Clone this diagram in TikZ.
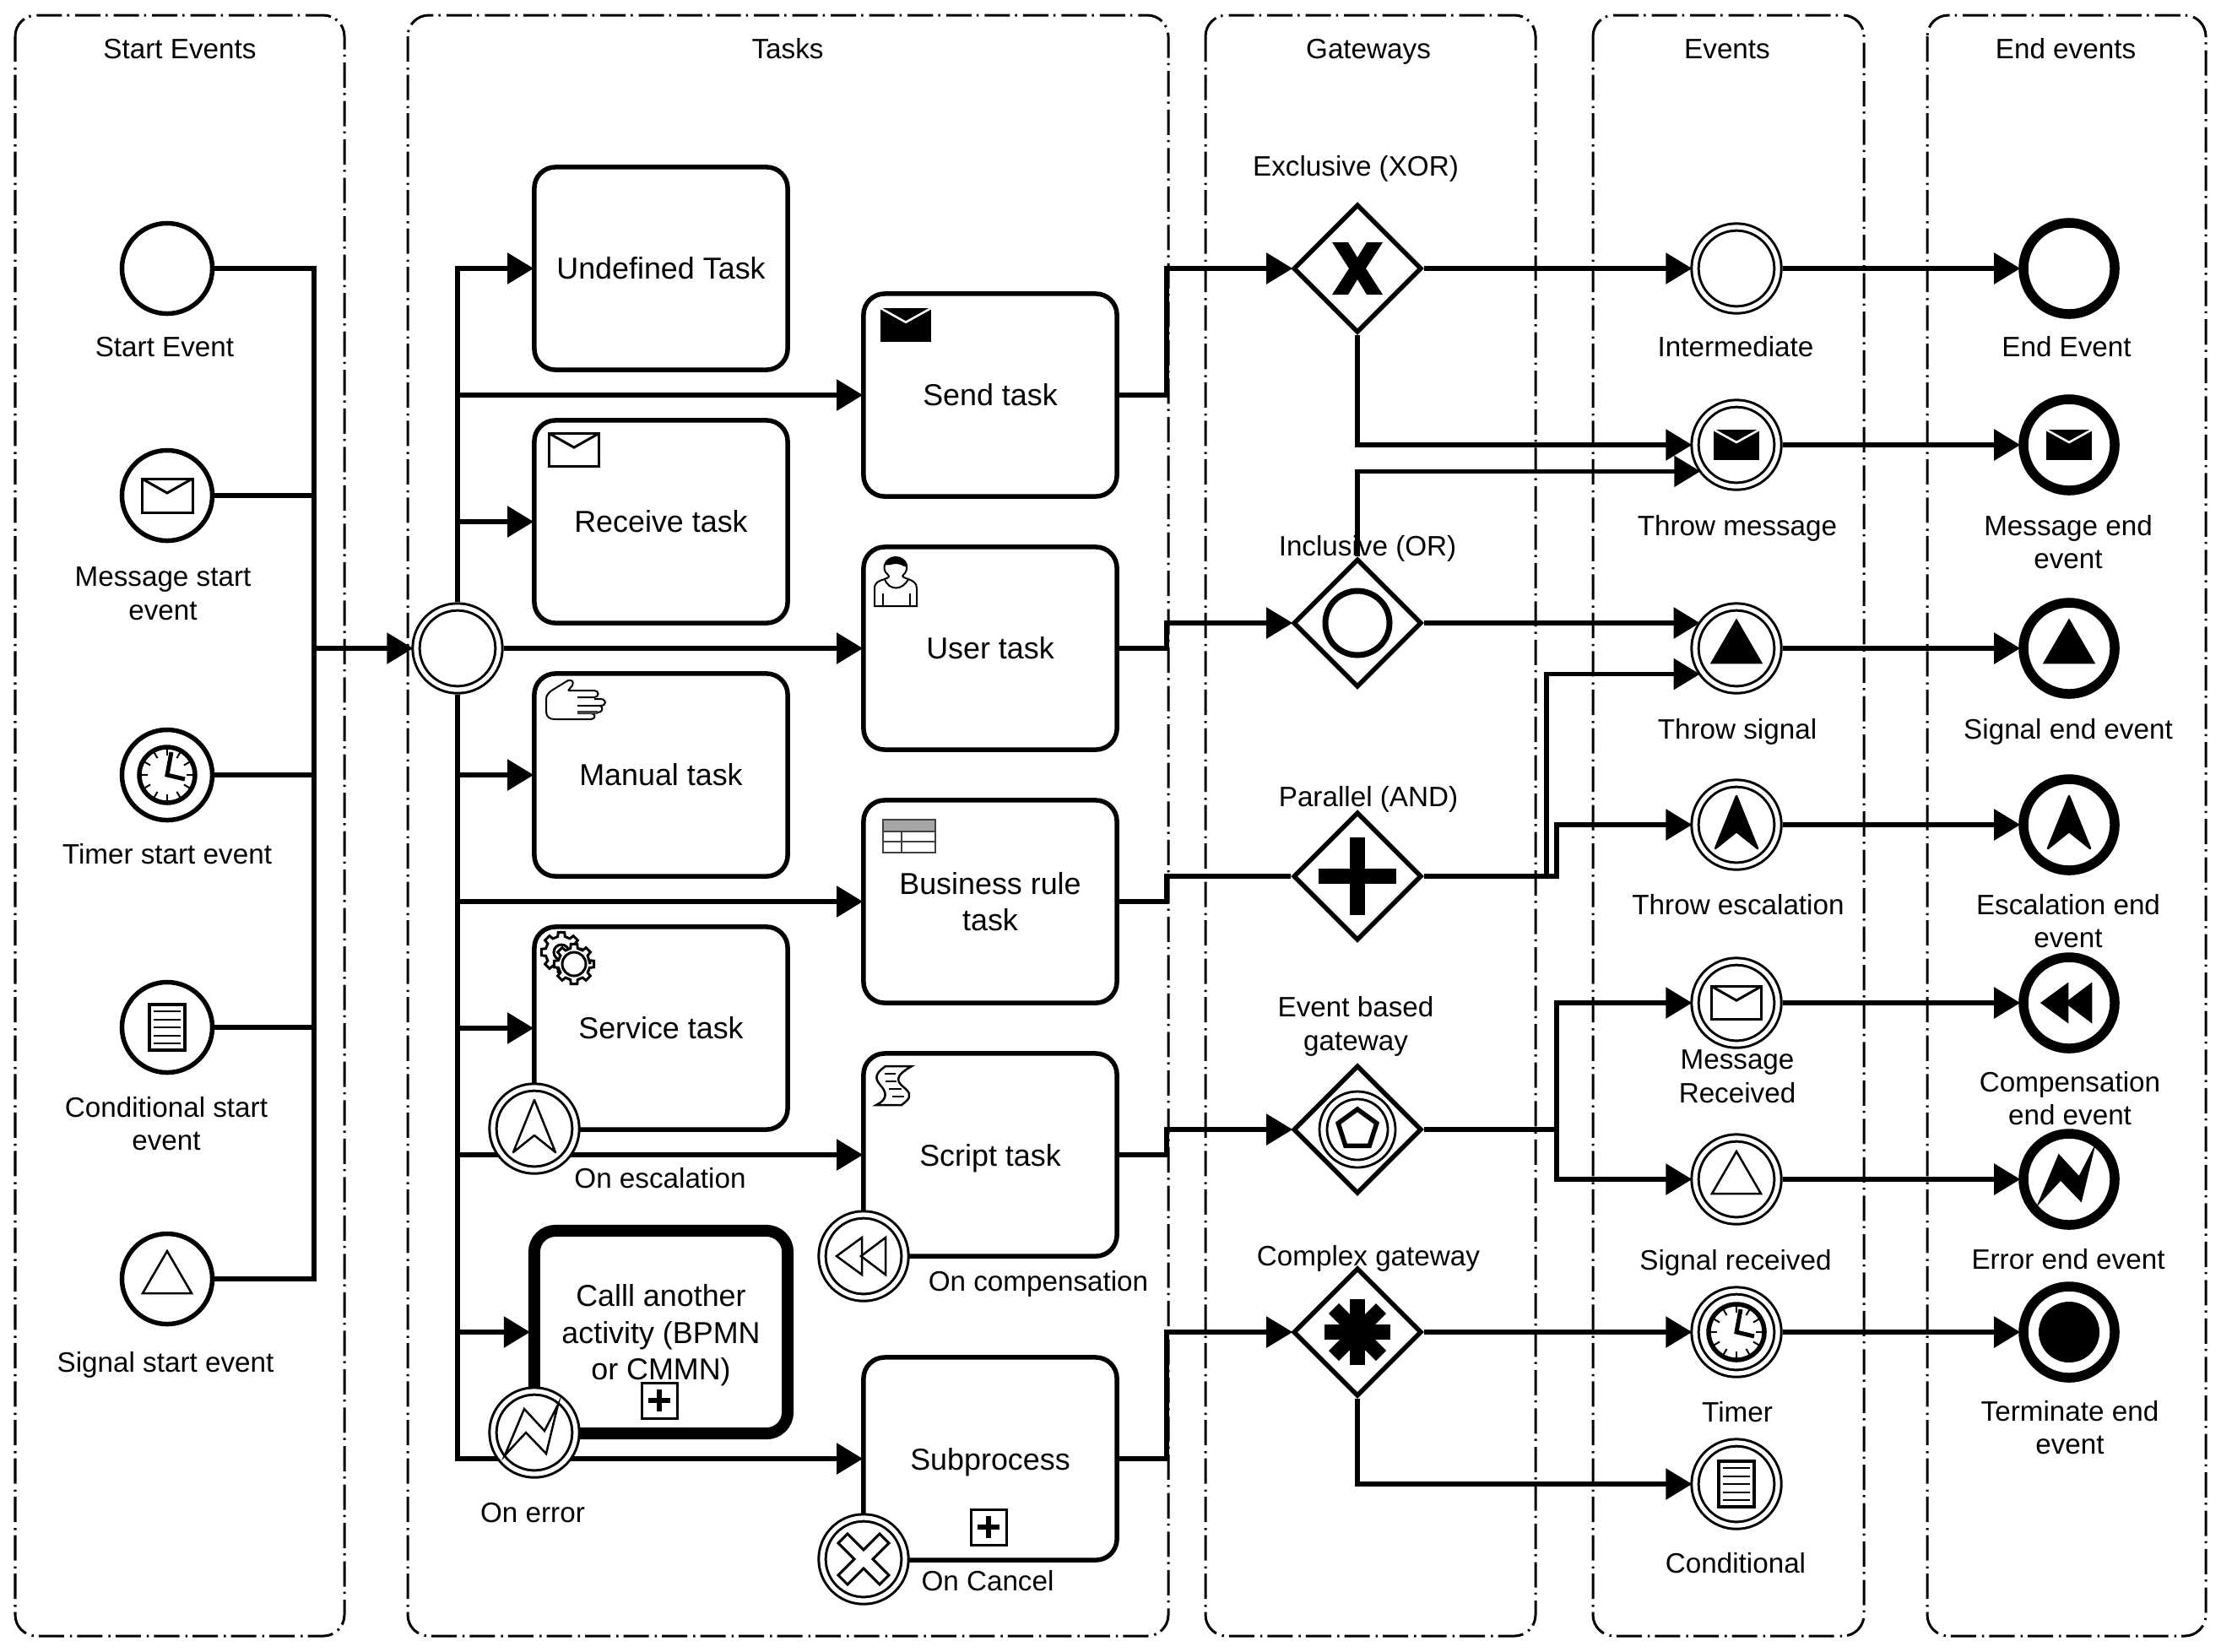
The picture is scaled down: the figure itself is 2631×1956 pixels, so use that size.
\documentclass[tikz,border=0pt]{standalone}
\usepackage{fontspec}
\setmainfont{Liberation Sans}
\usetikzlibrary{positioning,calc,arrows.meta,shapes.geometric}
\definecolor{tablegray}{HTML}{A6A6A6}
\definecolor{tabledark}{HTML}{404040}
\newcommand{\nodepth}[1]{\raisebox{0pt}[\height][0pt]{#1}}
\tikzset{
  lane/.style={draw,line width=.03cm,rounded corners=.25cm,dash pattern=on .30cm off .07cm on .025cm off .06cm},
  title/.style={font=\fontsize{9.45}{11.3}\selectfont,align=center,inner sep=0pt},
  tasklabel/.style={font=\fontsize{10.2}{12.4}\selectfont,align=center},
  taskbox/.style={tasklabel,draw,fill=white,line width=.055cm,rounded corners=.25cm,minimum width=3cm,minimum height=2.4cm,inner sep=0pt},
  startev/.style={circle,draw,fill=white,line width=.055cm,minimum size=1.07cm,inner sep=0pt},
  midev/.style={circle,draw,fill=white,line width=.03cm,double,double distance=.053cm,minimum size=.98cm,inner sep=0pt,outer sep=.056cm},
  endev/.style={circle,draw,fill=white,line width=.115cm,minimum size=1.08cm,inner sep=0pt},
  gate/.style={diamond,aspect=1,draw,fill=white,line width=.055cm,minimum width=1.52cm,minimum height=1.52cm,inner sep=0pt},
  link/.style={draw,line width=.055cm},
  flow/.style={link,shorten >=-.02cm,-{Triangle[length=.31cm,width=.36cm]}},
  pics/envelope/.style={code={
    \draw[line width=.03cm] (-30,-20) rectangle (30,20);
    \draw[line width=.03cm] (-30,-20) -- (0,-3) -- (30,-20);}},
  pics/envelopefull/.style={code={
    \fill (-27,-18) rectangle (27,18);
    \draw[white,line width=.025cm] (-27,-18) -- (0,-3) -- (27,-18);}},
  pics/trianglemark/.style={code={
    \draw[line width=.025cm,pic actions] (0,-33) -- (29,17) -- (-29,17) -- cycle;}},
  pics/escalationmark/.style={code={
    \draw[line width=.025cm,line join=round,pic actions] (0,-34) -- (25,28) -- (0,8) -- (-25,28) -- cycle;}},
  pics/boltmark/.style={code={
    \draw[line width=.025cm,pic actions] (-35,27) -- (-12,-28) -- (12,-2) -- (28,-33) -- (14,25) -- (-10,0) -- cycle;}},
  pics/rewindmark/.style={code={
    \draw[line width=.025cm,pic actions] (-32,0) -- (-2,-22) -- (-2,22) -- cycle;
    \draw[line width=.025cm,pic actions] (-3,0) -- (26,-22) -- (26,22) -- cycle;}},
  pics/cancelmark/.style={code={
    \draw[line width=.03cm] (-30,-19) -- (-19,-30) -- (0,-11) -- (19,-30) -- (30,-19) -- (11,0) -- (30,19) -- (19,30) -- (0,11) -- (-19,30) -- (-30,19) -- (-11,0) -- cycle;}},
  pics/docmark/.style={code={
    \draw[line width=.04cm] (-21,-27) rectangle (21,27);
    \foreach \y in {-19,-9.5,0,9.5,19}{\draw[line width=.02cm] (-16,\y) -- (16,\y);}}},
  pics/clockmark/.style={code={
    \draw[line width=.055cm] (0,0) circle[radius=33];
    \foreach \a in {0,30,...,330}{\draw[line width=.02cm] (\a:23) -- (\a:33);}
    \draw[line width=.05cm] (5,-27) -- (0,0) -- (21,5);}},
  pics/plusbox/.style={code={
    \draw[line width=.03cm,fill=white] (-21,-21) rectangle (21,21);
    \draw[line width=.06cm] (-13,0) -- (13,0) (0,-13) -- (0,13);}},
  pics/xormark/.style={code={
    \fill (-30,-31) -- (-11,-31) -- (0,-13) -- (11,-31) -- (30,-31) -- (10,0) -- (30,31) -- (11,31) -- (0,13) -- (-11,31) -- (-30,31) -- (-10,0) -- cycle;}},
  pics/andmark/.style={code={
    \fill (-9,-46) rectangle (9,46);
    \fill (-46,-9) rectangle (46,9);}},
  pics/ormark/.style={code={
    \draw[line width=.07cm] (0,0) circle[radius=38];}},
  pics/eventmark/.style={code={
    \draw[line width=.028cm] (0,0) circle[radius=45];
    \draw[line width=.028cm] (0,0) circle[radius=36];
    \draw[line width=.055cm] (-90:24) -- (-18:24) -- (54:24) -- (126:24) -- (198:24) -- cycle;}},
  pics/complexmark/.style={code={
    \draw[line width=.18cm] (-39,0) -- (39,0);
    \draw[line width=.18cm] (0,-39) -- (0,39);
    \draw[line width=.17cm] (-28,-28) -- (28,28);
    \draw[line width=.17cm] (-28,28) -- (28,-28);}},
  pics/usermark/.style={code={
    \draw[line width=.02cm] (-25,28) -- (-25,7) .. controls (-25,0) and (-20,-2) .. (-13,-4)
      .. controls (-8,10) and (8,10) .. (15,-4) .. controls (20,-2) and (25,0) .. (25,7) -- (25,28) -- cycle;
    \draw[line width=.02cm] (-15,13) -- (-15,28) (17,13) -- (17,28);
    \draw[line width=.02cm] (-13,-4) .. controls (-8,-6) and (-7,-7) .. (-9,-9) .. controls (-14,-13) and (-14,-18) .. (-13,-21)
      .. controls (-9,-33) and (9,-33) .. (13,-21) .. controls (14,-16) and (12,-11) .. (9,-9) .. controls (7,-7) and (9,-6) .. (15,-4);
    \fill (-13,-21) .. controls (-9,-33) and (9,-33) .. (14,-18) .. controls (8,-19) and (5,-23) .. (-2,-22) .. controls (-6,-21) and (-10,-20) .. (-13,-21) -- cycle;}},
  pics/handmark/.style={code={
    \draw[line width=.02cm,line join=round] (33,18) -- (38,12) .. controls (40,8) and (38,5) .. (33,6) -- (15,17) .. controls (9,21) and (7,24) .. (7,28)
      -- (7,43) .. controls (7,49) and (11,52) .. (17,52) -- (60,52) .. controls (66,52) and (66,45) .. (60,45) -- (44,45);
    \draw[line width=.02cm] (33,18) -- (64,18) .. controls (70,18) and (70,26) .. (64,26) -- (44,26);
    \draw[line width=.02cm] (64,28) -- (71,28) .. controls (79,28) and (79,36) .. (71,36) -- (44,36);
    \draw[line width=.02cm] (71,36) .. controls (75,38) and (74,44) .. (68,44);
    \draw[tabledark,line width=.035cm] (44,44) -- (68,44);}},
  pics/gearmark/.style 2 args={code={
    \draw[line width=.03cm,fill=white] (0:#1) \foreach \a in {0,45,...,315}{ -- (\a-13:#1) -- (\a-9:#2) -- (\a+9:#2) -- (\a+13:#1)} -- cycle;}},
  pics/scriptmark/.style={code={
    \draw[line width=.025cm] (24,13) -- (55,13) .. controls (32,26) and (38,32) .. (48,40) .. controls (56,48) and (52,52) .. (43,59) -- (13,59)
      .. controls (25,53) and (26,46) .. (20,38) .. controls (13,30) and (8,24) .. (24,13) -- cycle;
    \draw[line width=.025cm] (23,22) -- (36,22) (24,31) -- (37,31) (28,40) -- (43,40) (32,49) -- (46,49);}},
  pics/tablemark/.style={code={
    \fill[tablegray] (0,0) rectangle (62,13);
    \draw[tabledark,line width=.025cm] (0,0) rectangle (62,39);
    \draw[tabledark,line width=.025cm] (0,14) -- (62,14) (0,26) -- (62,26) (22,14) -- (22,39);}}
}

\begin{document}
\begin{tikzpicture}[x=0.01cm,y=-0.01cm]
\useasboundingbox (0,0) rectangle (2631,1956);
% lanes
\foreach \l/\r/\cx/\txt in {18/408/213/Start Events,483/1384/933/Tasks,1428/1819/1621/\nodepth{Gateways},1887/2208/2046/Events,2283/2613/2447/End events}{
  \draw[lane] (\l,18) rectangle (\r,1938);
  \node[title] (lane\l) at (\cx,58) {\txt};
}
% start events
\foreach \nm/\y in {evstart/318,evmsg/587,evtimer/918,evcond/1217,evsignal/1515}{\node[startev] (\nm) at (198,\y) {};}
\node[midev] (joint) at (542,768) {};
% tasks
\foreach \nm/\y/\txt in {undefined/318/Undefined Task,receive/618/Receive task,manual/918/Manual task,service/1218/Service task}{\node[taskbox] (\nm) at (783,\y) {\txt};}
\node[taskbox,line width=.14cm] (callact) at (783,1578) {Calll another\\activity (BPMN\\\nodepth{or CMMN)}};
\foreach \nm/\y/\txt in {send/468/Send task,user/768/User task,business/1068/{Business rule\\task},script/1368/\nodepth{Script task},subprocess/1728/\nodepth{Subprocess}}{\node[taskbox] (\nm) at (1173,\y) {\txt};}
% gateways
\foreach \nm/\y in {xorgate/318,orgate/738,andgate/1038,evgate/1338,complexgate/1578}{\node[gate] (\nm) at (1608,\y) {};}
% events
\foreach \nm/\y in {intermediate/318,throwmsg/527,throwsig/768,throwesc/977,msgrec/1188,sigrec/1397,timer/1578,conditional/1758}{\node[midev] (\nm) at (2057,\y) {};}
\foreach \nm/\y in {endplain/318,endmsg/527,endsig/768,endesc/977,endcomp/1188,enderr/1397,endterm/1578}{\node[endev] (\nm) at (2451,\y) {};}
% labels
\foreach \nm/\x/\y/\txt in {l1/195/411/Start Event,l2/193/703/{Message start\\event},l3/198/1012/Timer start event,l4/197/1331/{Conditional start\\event},l5/196/1613/\nodepth{Signal start event},
  l6/1606/196/\nodepth{Exclusive (XOR)},l7/1620/646/\nodepth{Inclusive (OR)},l8/1621/943/\nodepth{Parallel (AND)},l9/1606/1216/{Event based\\gateway},l10/1621/1487/\nodepth{Complex gateway},
  l11/2056/411/Intermediate,l12/2058/622/\nodepth{Throw message},l13/2058/863/\nodepth{Throw signal},l14/2059/1072/Throw escalation,l15/2058/1275/{Message\\Received},l16/2056/1492/\nodepth{Signal received},l17/2058/1673/Timer,l18/2056/1852/Conditional,
  l19/2448/411/End Event,l20/2450/642/{Message end\\event},l21/2450/863/\nodepth{Signal end event},l22/2450/1091/{Escalation end\\event},l23/2452/1301/{Compensation\\end event},l24/2450/1492/Error end event,l25/2452/1691/{Terminate end\\event},
  l26/782/1396/On escalation,l27/1230/1517/\nodepth{On compensation},l28/631/1792/On error,l29/1170/1873/On Cancel}{\node[title] (\nm) at (\x,\y) {\txt};}
% start events to joint
\coordinate (bus) at (372,768);
\draw[link] (evstart) -| (bus);
\draw[link] (evsignal) -| (bus);
\foreach \a in {evmsg,evtimer,evcond}{\draw[link] (\a) -- (\a -| bus);}
\draw[flow] (bus) -- (joint);
% joint to tasks
\foreach \a in {undefined,send,receive,manual,business,service,script,callact,subprocess}{\draw[flow] (joint) |- (\a.west);}
\draw[flow] (joint) -- (user);
% tasks to gateways
\foreach \a/\b in {send/xorgate,user/orgate,script/evgate,subprocess/complexgate}{\draw[flow] (\a.east) -- ++(56,0) |- (\b.west);}
\draw[link] (business.east) -- ++(56,0) |- (andgate.west);
% gateways to events
\draw[flow] (xorgate) -- (intermediate);
\draw[flow] (xorgate) |- (throwmsg.west);
\draw[flow] (orgate) |- (throwmsg.215);
\draw[flow] (orgate) -- (orgate -| throwsig.146);
\draw[flow] (andgate.east) -- ++(145,0) |- (throwsig.214);
\draw[flow] (andgate.east) -- ++(157,0) |- (throwesc.west);
\draw[link] (evgate.east) -- ++(157,0) coordinate (evfork);
\draw[flow] (evfork) |- (msgrec.west);
\draw[flow] (evfork) |- (sigrec.west);
\draw[flow] (complexgate) -- (timer);
\draw[flow] (complexgate) |- (conditional.west);
% events to end events
\foreach \a/\b in {intermediate/endplain,throwmsg/endmsg,throwsig/endsig,throwesc/endesc,msgrec/endcomp,sigrec/enderr,timer/endterm}{\draw[flow] (\a) -- (\b);}
% boundary events
\foreach \nm/\x/\y in {bescalation/633/1337,bcompensation/1023/1488,berror/633/1697,bcancel/1023/1847}{\node[midev] (\nm) at (\x,\y) {};}
% markers
\pic at (evmsg) {envelope};
\pic at (evtimer) {clockmark};
\pic at (evcond) {docmark};
\pic[fill=white] at (evsignal) {trianglemark};
\pic[scale=1.1] at (1073,385) {envelopefull};
\pic[scale=.98] at (680,533) {envelope};
\pic at (1061,690) {usermark};
\pic at (640,800) {handmark};
\pic at (1046,971) {tablemark};
\pic at (665,1128) {gearmark={19}{24}};
\draw[line width=.03cm,fill=white] (665,1128) circle[radius=9];
\pic at (680,1142) {gearmark={19}{24}};
\draw[line width=.03cm,fill=white] (680,1142) circle[radius=14];
\pic at (1025,1250) {scriptmark};
\pic at (781,1659) {plusbox};
\pic at (1171,1809) {plusbox};
\pic[fill=white] at (bescalation) {escalationmark};
\pic[fill=white] at (bcompensation) {rewindmark};
\pic[fill=white] at (berror) {boltmark};
\pic at (bcancel) {cancelmark};
\pic at (xorgate) {xormark};
\pic at (orgate) {ormark};
\pic at (andgate) {andmark};
\pic at (evgate) {eventmark};
\pic at (complexgate) {complexmark};
\pic at (throwmsg) {envelopefull};
\pic[fill=black] at (throwsig) {trianglemark};
\pic[fill=black] at (throwesc) {escalationmark};
\pic[scale=.97] at (msgrec) {envelope};
\pic[fill=white] at (sigrec) {trianglemark};
\pic at (timer) {clockmark};
\pic at (conditional) {docmark};
\pic at (endmsg) {envelopefull};
\pic[fill=black] at (endsig) {trianglemark};
\pic[fill=black] at (endesc) {escalationmark};
\pic[fill=black] at (endcomp) {rewindmark};
\pic[fill=black] at (enderr) {boltmark};
\fill (endterm) circle[radius=36];
\end{tikzpicture}
\end{document}
